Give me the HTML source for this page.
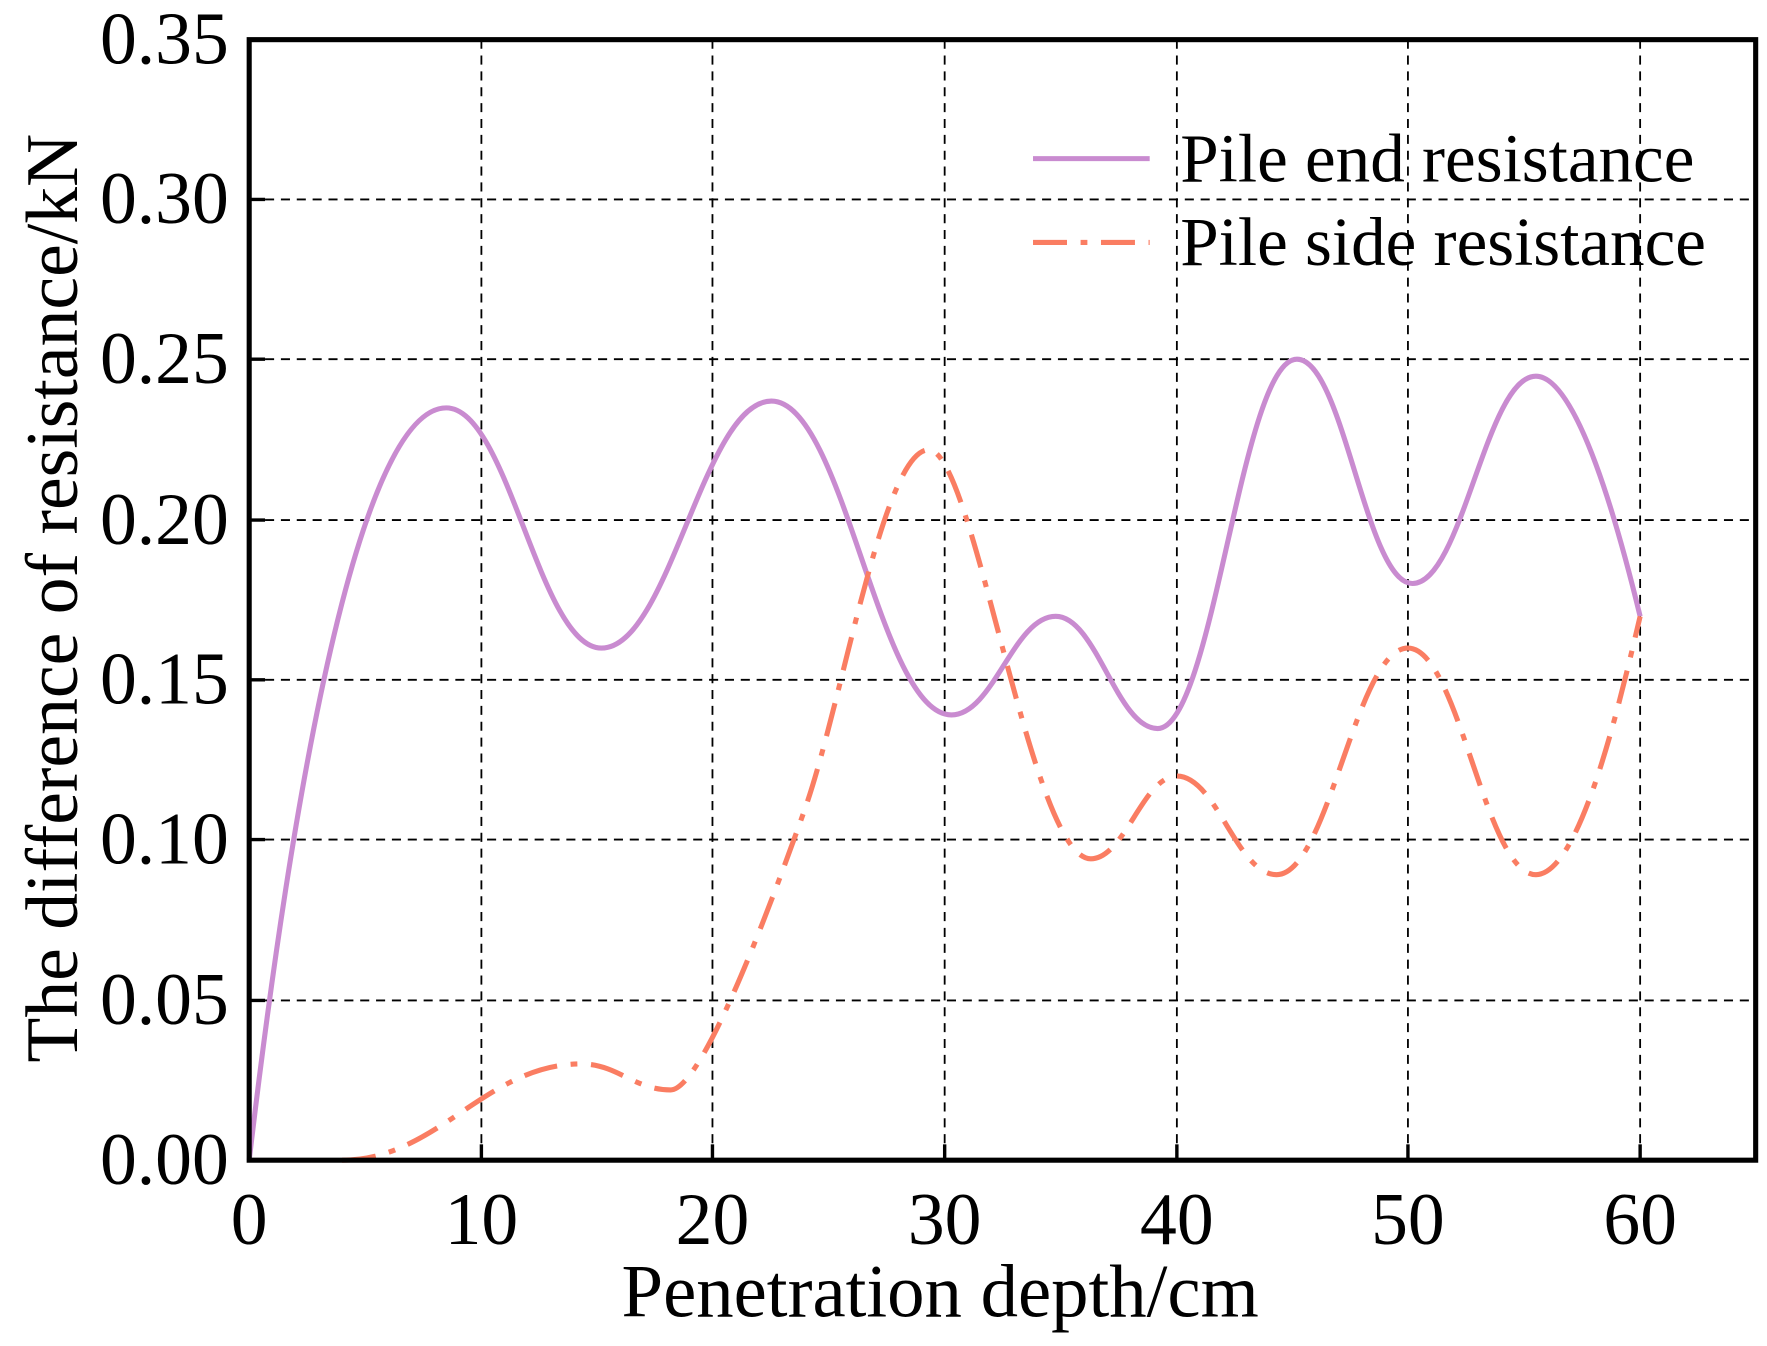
<!DOCTYPE html>
<html><head><style>html,body{margin:0;padding:0;background:#fff}svg{display:block}</style></head>
<body>
<svg width="1767" height="1346" viewBox="0 0 1560 1188" preserveAspectRatio="none" xmlns="http://www.w3.org/2000/svg" font-family="Liberation Serif, serif">
<rect width="1560" height="1188" fill="#fff"/>
<g stroke="#000" stroke-width="1.6" stroke-dasharray="8 6" fill="none">
<line x1="425" y1="35" x2="425" y2="1024"/><line x1="629" y1="35" x2="629" y2="1024"/>
<line x1="834" y1="35" x2="834" y2="1024"/><line x1="1039" y1="35" x2="1039" y2="1024"/>
<line x1="1243" y1="35" x2="1243" y2="1024"/><line x1="1448" y1="35" x2="1448" y2="1024"/>
<line x1="220" y1="883" x2="1550" y2="883"/><line x1="220" y1="741" x2="1550" y2="741"/>
<line x1="220" y1="600" x2="1550" y2="600"/><line x1="220" y1="459" x2="1550" y2="459"/>
<line x1="220" y1="317" x2="1550" y2="317"/><line x1="220" y1="176" x2="1550" y2="176"/>
</g>
<path fill="none" stroke="#c98bd0" stroke-width="4.5" d="M220,1024 C270,600 330,360 394,360 C449,360 476,572 531,572 C591,572 621,354 681,354 C745,354 776,631 840,631 C877,631 895,544 932,544 C968,544 986,643 1022,643 C1071,643 1096,317 1145,317 C1186,317 1206,515 1247,515 C1291,515 1312,332 1356,332 C1393,332 1430,470 1448,544"/>
<path fill="none" stroke="#fa7d62" stroke-width="4.5" stroke-dasharray="30 12 6 12" d="M302,1024 C386,1024 429,939 513,939 C545,939 560,962 592,962 C620,962 680,800 711,713 C745,615 780,397 820,397 C860,397 910,758 963,758 C993,758 1009,685 1039,685 C1074,685 1092,772 1127,772 C1173,772 1197,572 1243,572 C1288,572 1311,772 1356,772 C1395,772 1430,620 1448,544"/>
<rect x="220" y="35" width="1330" height="989" fill="none" stroke="#000" stroke-width="4.5"/>
<g stroke="#000" stroke-width="3">
<line x1="425" y1="1024" x2="425" y2="1010"/><line x1="629" y1="1024" x2="629" y2="1010"/>
<line x1="834" y1="1024" x2="834" y2="1010"/><line x1="1039" y1="1024" x2="1039" y2="1010"/>
<line x1="1243" y1="1024" x2="1243" y2="1010"/><line x1="1448" y1="1024" x2="1448" y2="1010"/>
<line x1="220" y1="883" x2="234" y2="883"/><line x1="220" y1="741" x2="234" y2="741"/>
<line x1="220" y1="600" x2="234" y2="600"/><line x1="220" y1="459" x2="234" y2="459"/>
<line x1="220" y1="317" x2="234" y2="317"/><line x1="220" y1="176" x2="234" y2="176"/>
</g>
<g font-size="65" text-anchor="end">
<text x="202" y="1045">0.00</text><text x="202" y="904">0.05</text><text x="202" y="762">0.10</text>
<text x="202" y="621">0.15</text><text x="202" y="480">0.20</text><text x="202" y="338">0.25</text>
<text x="202" y="197">0.30</text><text x="202" y="56">0.35</text>
</g>
<g font-size="65" text-anchor="middle">
<text x="220" y="1098">0</text><text x="425" y="1098">10</text><text x="629" y="1098">20</text>
<text x="834" y="1098">30</text><text x="1039" y="1098">40</text><text x="1243" y="1098">50</text><text x="1448" y="1098">60</text>
<text x="830" y="1162" font-size="66">Penetration depth/cm</text>
<text transform="translate(68,528) rotate(-90)" font-size="65">The difference of resistance/kN</text>
</g>
<line x1="912" y1="140" x2="1015" y2="140" stroke="#c98bd0" stroke-width="4.5"/>
<line x1="912" y1="214" x2="1015" y2="214" stroke="#fa7d62" stroke-width="4.5" stroke-dasharray="30 12 6 12"/>
<g font-size="61"><text x="1042" y="160">Pile end resistance</text><text x="1042" y="234">Pile side resistance</text></g>
</svg>
</body></html>
